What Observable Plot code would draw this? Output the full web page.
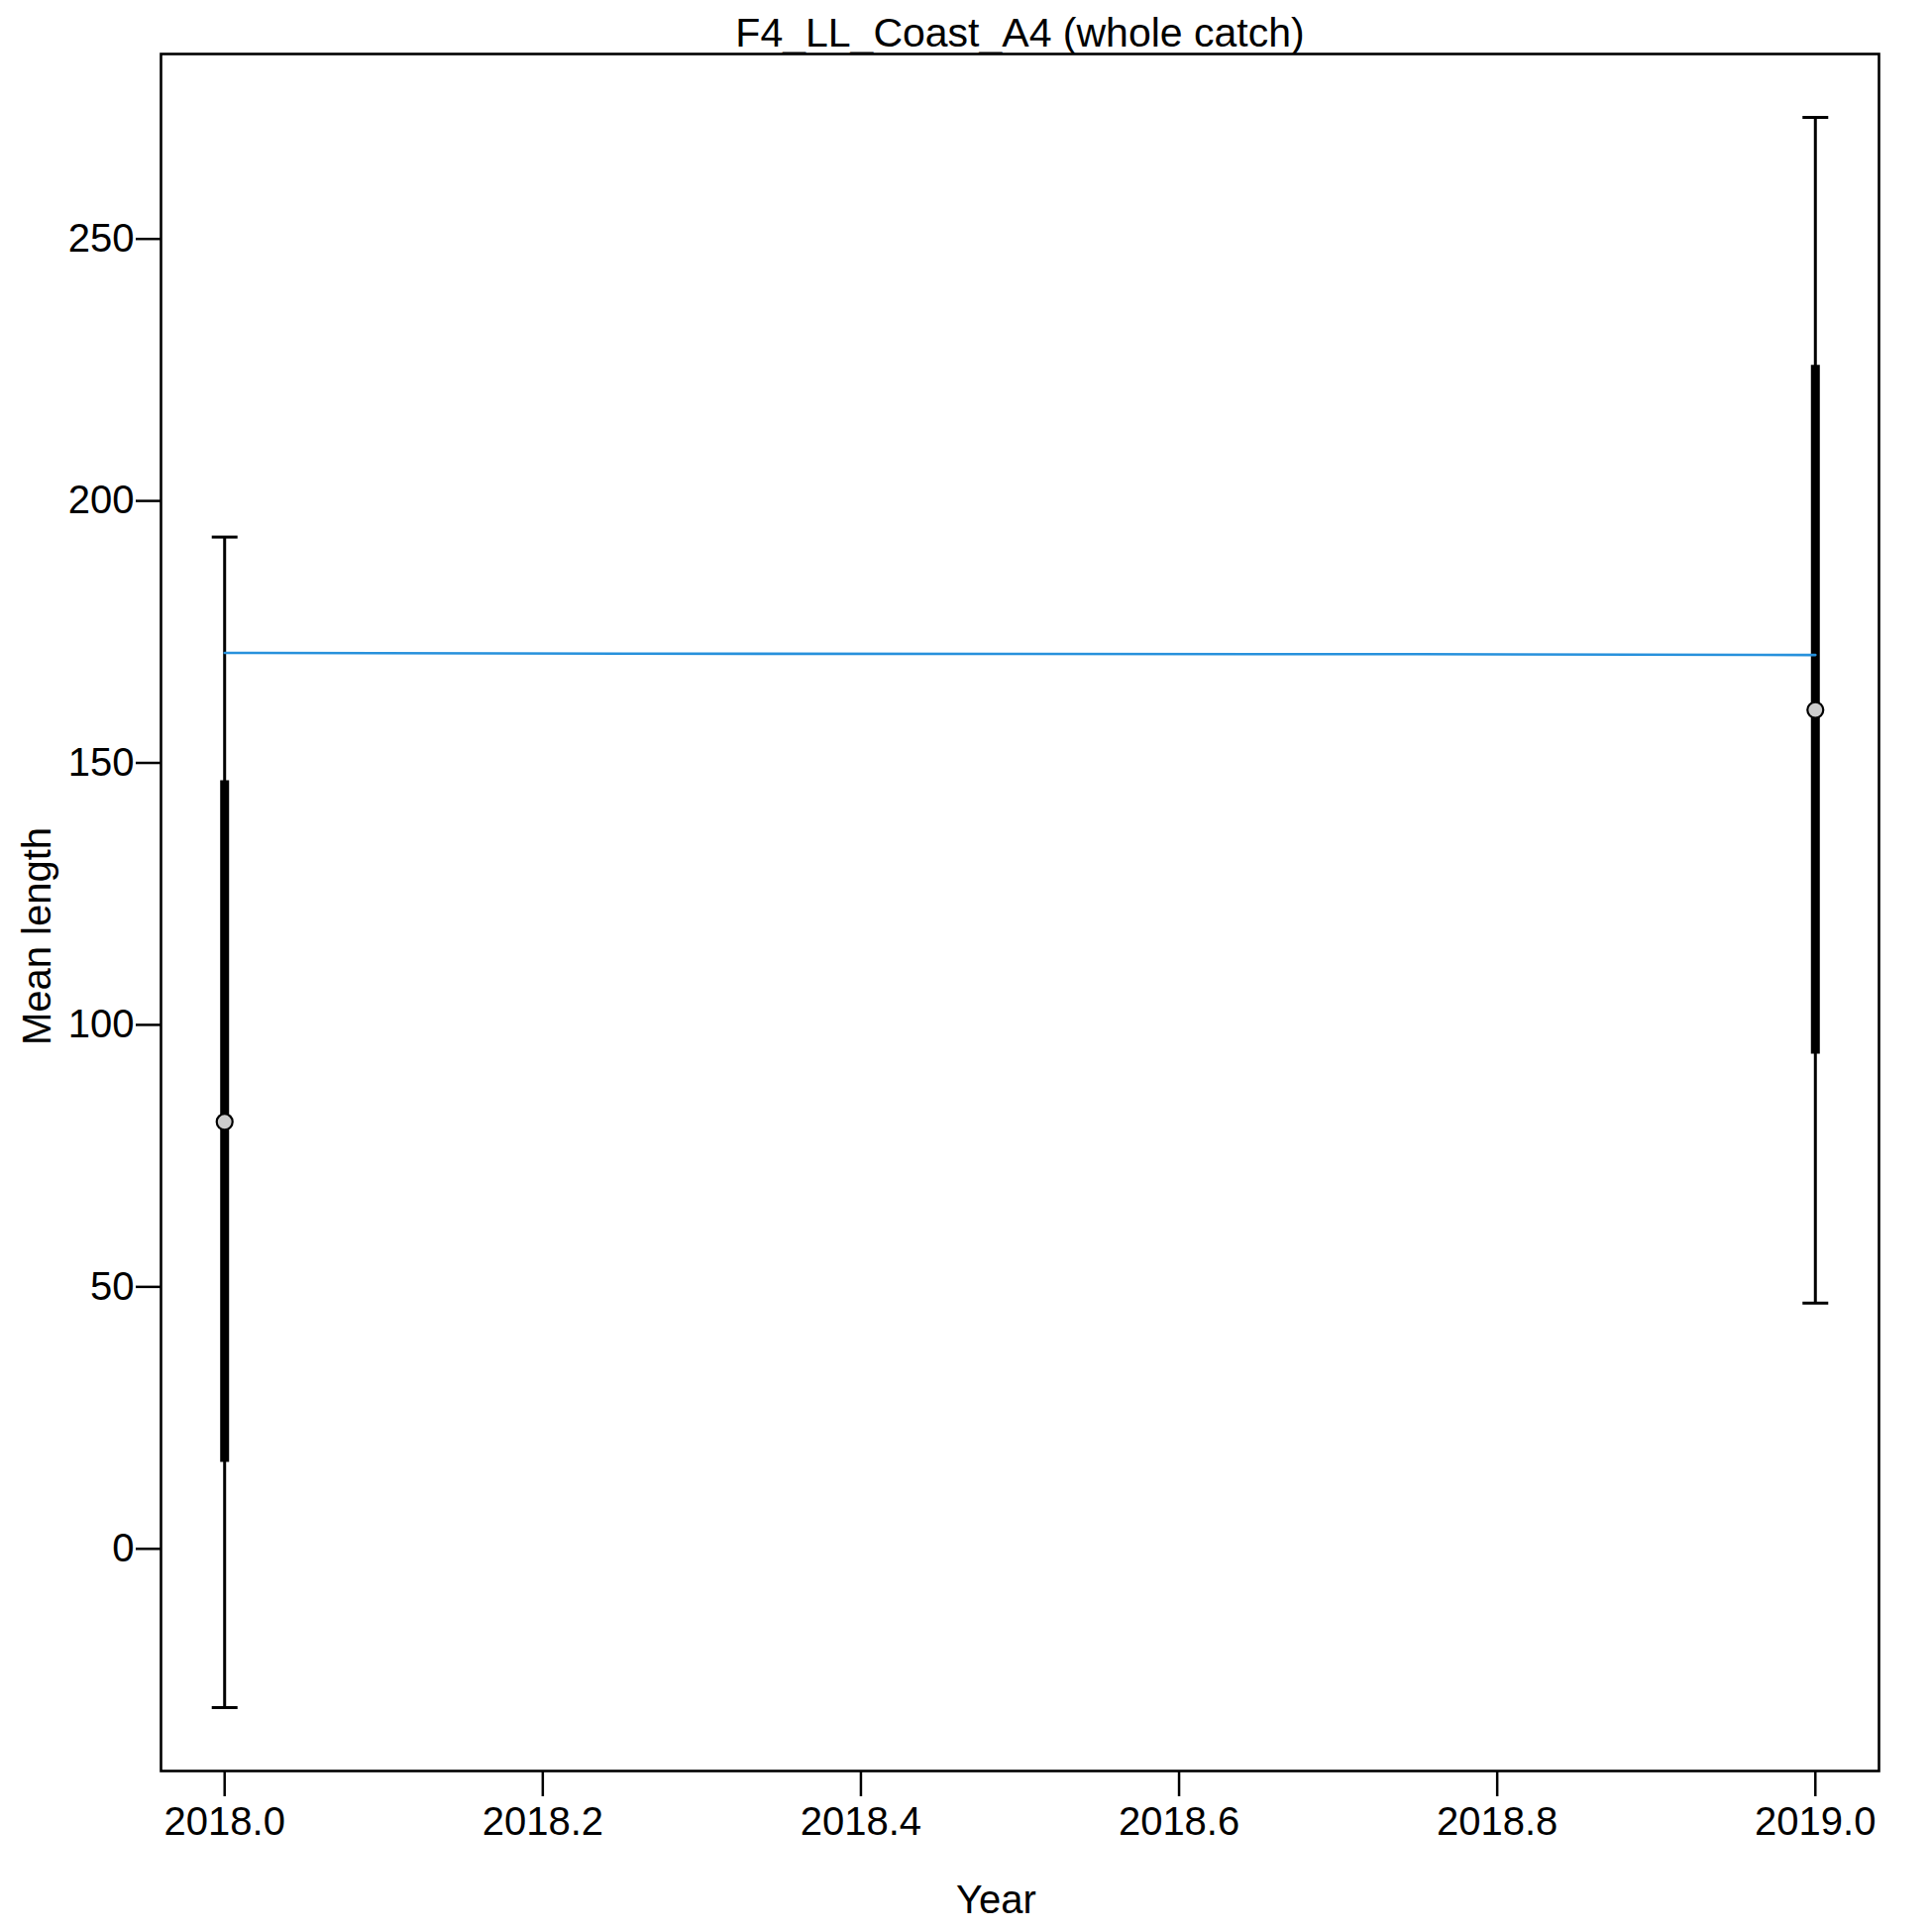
<!DOCTYPE html>
<html>
<head>
<meta charset="utf-8">
<script src="https://cdn.jsdelivr.net/npm/d3@7"></script>
<script src="https://cdn.jsdelivr.net/npm/@observablehq/plot@0.6"></script>
<style>
  html, body { margin: 0; padding: 0; background: #ffffff; }
  svg { display: block; }
</style>
</head>
<body>
<div id="chart"></div>
<script>
// ---- data ----
const years = [2018, 2019];
const obsMean = [81.5, 160.1];
const innerLo = [16.5, 94.4];
const innerHi = [146.6, 225.9];
const outerLo = [-30.3, 46.9];
const outerHi = [193.1, 273.2];

const expYears = [2018, 2018.25, 2018.5, 2018.75, 2019];
const expMean = [171.0, 170.85, 170.8, 170.75, 170.6];

const xTicks = [2018.0, 2018.2, 2018.4, 2018.6, 2018.8, 2019.0];
const yTicks = [0, 50, 100, 150, 200, 250];

const titleText = "F4_LL_Coast_A4 (whole catch)";
const xLabel = "Year";
const yLabel = "Mean length";

// ---- tables built from the arrays ----
const obs = years.map((y, i) => ({
  year: y, mean: obsMean[i], lo1: innerLo[i], hi1: innerHi[i], lo2: outerLo[i], hi2: outerHi[i]
}));
const exp = expYears.map((y, i) => ({year: y, mean: expMean[i]}));

// horizontal cap symbol for error bars
const capSymbol = {
  draw(context, size) {
    const r = Math.sqrt(size / Math.PI);
    context.moveTo(-r, 0);
    context.lineTo(r, 0);
  }
};

const font = "'Liberation Sans', Arial, Helvetica, sans-serif";

const chart = Plot.plot({
  width: 1950,
  height: 1950,
  marginLeft: 162,
  marginRight: 54,
  marginTop: 54,
  marginBottom: 163,
  style: {fontFamily: font, fontSize: "40px", color: "#000", background: "#fff"},
  x: {domain: [2017.96, 2019.04], label: null},
  y: {domain: [-42.4, 285.3], label: null},
  marks: [
    Plot.axisX({ticks: xTicks, tickFormat: d3.format(".1f"), tickSize: 26, tickPadding: 10,
      strokeWidth: 2.5, fontSize: 40, label: null}),
    Plot.axisY({ticks: yTicks, tickFormat: d3.format("d"), tickSize: 25, tickPadding: 2,
      strokeWidth: 2.5, fontSize: 40, label: null}),
    // outer (thin) error bars
    Plot.ruleX(obs, {x: "year", y1: "lo2", y2: "hi2", stroke: "#000", strokeWidth: 3}),
    Plot.dot(obs, {x: "year", y: "lo2", symbol: capSymbol, r: 13, stroke: "#000", strokeWidth: 3, fill: "none"}),
    Plot.dot(obs, {x: "year", y: "hi2", symbol: capSymbol, r: 13, stroke: "#000", strokeWidth: 3, fill: "none"}),
    // inner (thick) bars
    Plot.ruleX(obs, {x: "year", y1: "lo1", y2: "hi1", stroke: "#000", strokeWidth: 9, strokeLinecap: "butt"}),
    // expected line
    Plot.line(exp, {x: "year", y: "mean", stroke: "#2791DC", strokeWidth: 2.6}),
    // observed points
    Plot.dot(obs, {x: "year", y: "mean", r: 8, fill: "#cccccc", stroke: "#000", strokeWidth: 2.2}),
    Plot.frame({stroke: "#000", strokeWidth: 2.6}),
    // title and axis labels
    Plot.text([titleText], {frameAnchor: "top", lineAnchor: "bottom", dy: -8, fontSize: 41, fill: "#000"}),
    Plot.text([xLabel], {frameAnchor: "bottom", lineAnchor: "bottom", dx: -24, dy: 143, fontSize: 40, fill: "#000"}),
    Plot.text([yLabel], {frameAnchor: "left", textAnchor: "middle", lineAnchor: "bottom", rotate: -90, dx: -112, dy: 24, fontSize: 40, fill: "#000"})
  ]
});

document.getElementById("chart").appendChild(chart);
</script>
</body>
</html>
